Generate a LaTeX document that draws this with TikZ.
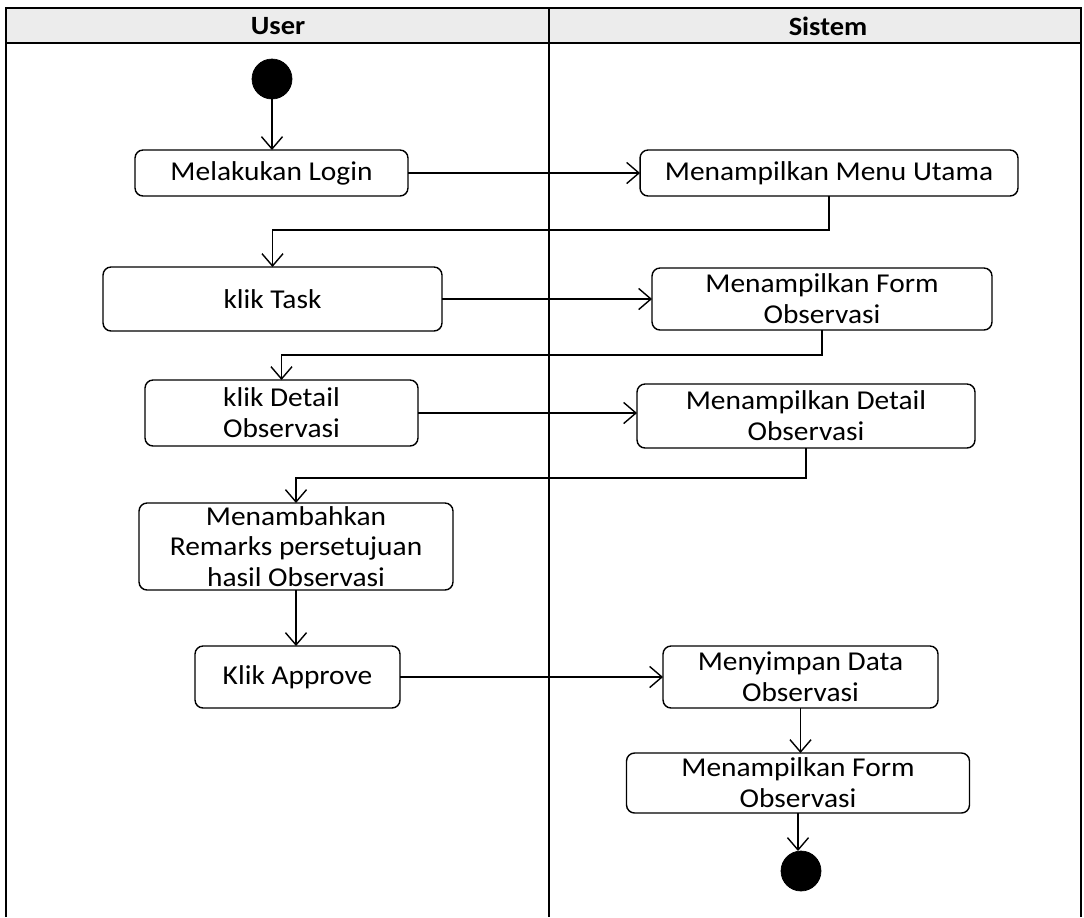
\documentclass[tikz,border=0pt]{standalone}
\usepackage{fontspec}
\setmainfont{Carlito}[FakeStretch=1.08]
\usetikzlibrary{arrows.meta}

\begin{document}
\begin{tikzpicture}[
  x=0.02cm, y=-0.02cm,
  act/.style={rectangle, draw, rounded corners=0.16cm, align=center, line width=0.8pt, inner sep=0pt, outer sep=0pt, font=\fontsize{15.5}{17.5}\selectfont},
  dot/.style={circle, fill=black, draw, minimum size=0.8cm, inner sep=0pt, outer sep=0pt},
  lane/.style={font=\fontsize{15}{17.5}\selectfont\bfseries},
  arr/.style={-{Straight Barb[length=7pt,width=12pt]}, line width=0.8pt}
]
\useasboundingbox (0,0) rectangle (1084,917);
% swimlane frame
\fill[gray!15] (6,8) rectangle (1081,43);
\draw[line width=1.2pt] (6,917) -- (6,8) -- (1081,8) -- (1081,917);
\draw[line width=1.2pt] (6,43) -- (1081,43);
\draw[line width=0.8pt] (549,8) -- (549,917);
\node[lane] (user) at (278,26) {User};
\node[lane] (sistem) at (828,26) {Sistem};

% user lane
\node[dot] (start) at (272,79) {};
\node[act, minimum width=5.46cm, minimum height=0.92cm] (login) at (271.5,173) {Melakukan Login};
\node[act, minimum width=6.78cm, minimum height=1.28cm] (task) at (272.5,299) {klik Task};
\node[act, minimum width=5.46cm, minimum height=1.32cm] (detail) at (281.5,413) {klik Detail\\Observasi};
\node[act, minimum width=6.28cm, minimum height=1.74cm] (remarks) at (296,546.5) {Menambahkan\\Remarks persetujuan\\hasil Observasi};
\node[act, minimum width=4.1cm, minimum height=1.24cm] (approve) at (297.5,677) {Klik Approve};

% system lane
\node[act, minimum width=7.56cm, minimum height=0.92cm] (menu) at (829,173) {Menampilkan Menu Utama};
\node[act, minimum width=6.8cm, minimum height=1.24cm] (form) at (822,299) {Menampilkan Form\\Observasi};
\node[act, minimum width=6.76cm, minimum height=1.28cm] (showdetail) at (806,416) {Menampilkan Detail\\Observasi};
\node[act, minimum width=5.5cm, minimum height=1.24cm] (save) at (800.5,677) {Menyimpan Data\\Observasi};
\node[act, minimum width=6.86cm, minimum height=1.2cm] (formagain) at (798,783) {Menampilkan Form\\Observasi};
\node[dot] (end) at (801,871) {};

% flows
\draw[arr] (start) -- (start |- login.north);
\draw[arr] (login) -- (menu);
\draw[arr] (menu.south) -- ++(0,34) -| (task.north);
\draw[arr] (task) -- (form);
\draw[arr] (form.south) -- ++(0,25) -| (detail.north);
\draw[arr] (detail.east) -- (detail.east -| showdetail.west);
\draw[arr] (showdetail.south) -- ++(0,30) -| (remarks.north);
\draw[arr] (remarks.south) -- (remarks.south |- approve.north);
\draw[arr] (approve) -- (save);
\draw[arr] (save.south) -- (save.south |- formagain.north);
\draw[arr] (formagain.south) -- (formagain.south |- end.north);
\end{tikzpicture}
\end{document}
